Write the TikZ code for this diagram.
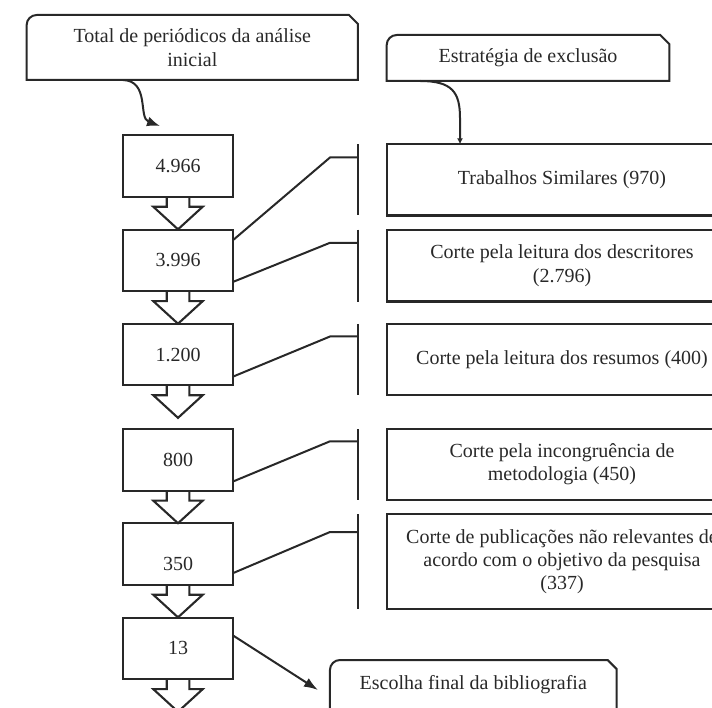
\documentclass[tikz,border=0pt]{standalone}
\usepackage{fontspec}
\setmainfont{Liberation Serif}
\usetikzlibrary{arrows.meta}
\definecolor{ink}{RGB}{40,40,40}
\tikzset{
  stepbox/.style={draw=ink,line width=2.1pt,rectangle,outer sep=0pt,inner sep=0pt,minimum width=110.6pt,minimum height=61.5pt},
  cutbox/.style={draw=ink,line width=2.1pt,rectangle,outer sep=0pt,inner sep=0pt,minimum width=350pt,align=center},
  blockarrow/.style={draw=ink,line width=2.1pt,line join=miter},
  link/.style={draw=ink,line width=2pt},
}

\begin{document}
\begin{tikzpicture}[x=1pt,y=-1pt,font=\fontsize{20}{23.3}\selectfont,text=ink]
\useasboundingbox (0,0) rectangle (712,708);

\node[outer sep=0pt,minimum width=331.3pt,minimum height=65pt,align=center] (T) at (192.3,47.5) {Total de periódicos da análise\\inicial};
\node[outer sep=0pt,minimum width=282.6pt,minimum height=46pt] (E) at (528,58) {Estratégia de exclusão};
\node[outer sep=0pt,minimum width=286.7pt,minimum height=50pt] (F) at (473.3,685) {Escolha final da bibliografia};

\node[stepbox] (B1) at (178,166) {4.966};
\node[stepbox] (B2) at (178,260.4) {3.996};
\node[stepbox] (B3) at (178,354.5) {1.200};
\node[stepbox] (B4) at (178,459.9) {800};
\node[stepbox] (B5) at (178,554) {};
\node (N5) at (178,564) {350};
\node[stepbox] (B6) at (178,648.4) {13};

\node[cutbox,minimum height=71.2pt] (R1) at (562,179.9) {Trabalhos Similares (970)};
\node[cutbox,minimum height=71.9pt] (R2) at (562,265.6) {Corte pela leitura dos descritores\\(2.796)};
\node[cutbox,minimum height=71pt] (R3) at (562,359.5) {Corte pela leitura dos resumos (400)};
\node[cutbox,minimum height=71pt] (R4) at (562,464.5) {Corte pela incongruência de\\metodologia (450)};
\node[cutbox,minimum height=94.4pt] (R5) at (562,561.6) {Corte de publicações não relevantes de\\acordo com o objetivo da pesquisa\\(337)};

% callout outlines
\foreach \c in {T,E,F} {
  \draw[link] (\c.south west) -- ([yshift=-10]\c.north west) arc[start angle=180,end angle=90,radius=10pt]
    -- ([xshift=-9]\c.north east) -- ([yshift=-9]\c.north east) -- (\c.south east) -- cycle;
}

% block arrows under the counts
\foreach \b in {B1,B2,B3,B4,B5,B6} {
  \draw[blockarrow] ([xshift=-11.3]\b.south) -- ++(0,10) -- ++(-13.4,0) -- ++(24.7,22.6)
    -- ++(24.7,-22.6) -- ++(-13.4,0) -- ++(0,-10);
}

% brackets and links to the cuts
\foreach \r in {R1,R2,R3,R4,R5} {
  \draw[link] (358,0 |- \r.north) -- (358,0 |- \r.south);
}
\foreach \b/\k/\ya/\yb in {B2/1/239.9/157.5,B2/2/281.8/242.8,B3/3/376.5/336.5,B4/4/481.4/441.3,B5/5/573/532} {
  \coordinate (K\k) at (358,\yb);
  \draw[link] (\b.east |- 0,\ya) -- ([xshift=-28]K\k) -- (K\k);
}

\coordinate (tT) at (160,126);
\draw[link,-{Latex[length=13pt,width=10pt]}] (123,0 |- T.south) .. controls (150,81) and (138,118) .. (tT);
\draw[link,-{Latex[length=6pt,width=6pt]}] (420,0 |- E.south) .. controls (452,81) and (460,92) .. (460,118) -- (460,0 |- R1.north);
\draw[link,-{Latex[length=14pt,width=10pt]}] ([yshift=-18]B6.north east) -- ([shift={(-12pt,-5pt)}]F.west);
\end{tikzpicture}
\end{document}
